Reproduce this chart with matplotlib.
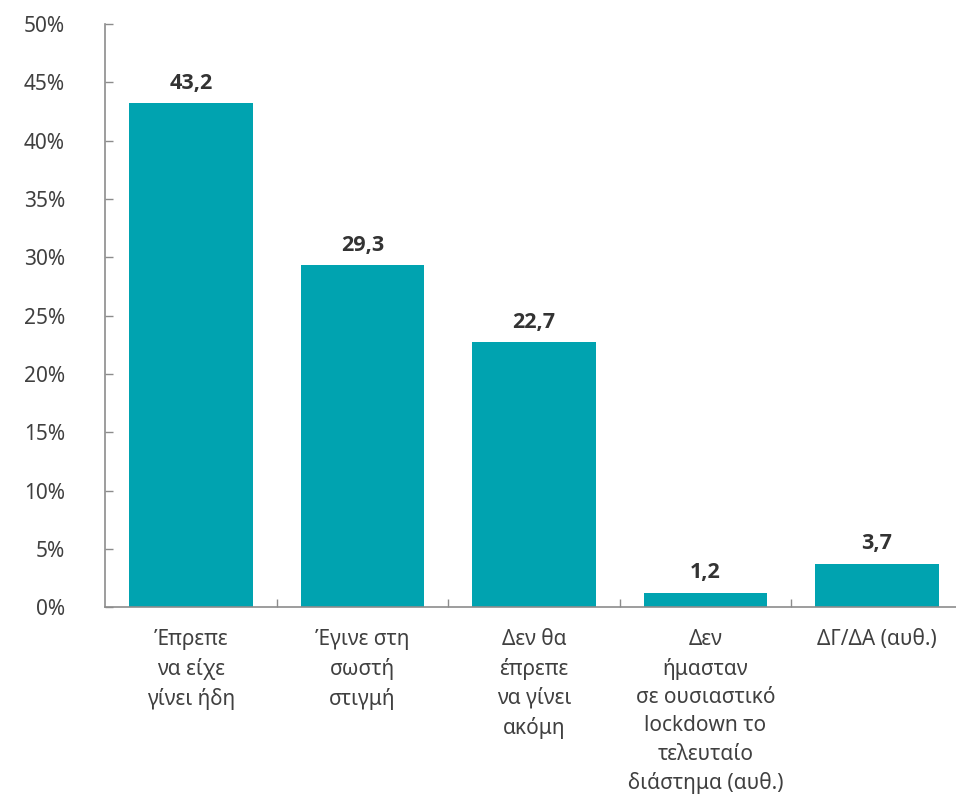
import matplotlib
matplotlib.use("Agg")
import matplotlib.pyplot as plt
from matplotlib.ticker import FixedLocator

plt.rcParams['font.family'] = ['Noto Sans', 'DejaVu Sans']

categories = [
    "Έπρεπε\nνα είχε\nγίνει ήδη",
    "Έγινε στη\nσωστή\nστιγμή",
    "Δεν θα\nέπρεπε\nνα γίνει\nακόμη",
    "Δεν\nήμασταν\nσε ουσιαστικό\nlockdown το\nτελευταίο\nδιάστημα (αυθ.)",
    "ΔΓ/ΔΑ (αυθ.)",
]
values = [43.2, 29.3, 22.7, 1.2, 3.7]
value_labels = ["43,2", "29,3", "22,7", "1,2", "3,7"]
yticks = [0, 5, 10, 15, 20, 25, 30, 35, 40, 45, 50]
ytick_labels = [f"{t}%" for t in yticks]

bar_color = "#00A3B0"
text_color = "#404040"
axis_color = "#8c8c8c"

fig = plt.figure(figsize=(9.56, 8.02), dpi=100)
ax = fig.add_axes([0.110, 0.243, 0.897, 0.727])

x = list(range(len(categories)))
bars = ax.bar(x, values, width=0.72, color=bar_color)

for xi, v, lab in zip(x, values, value_labels):
    ax.annotate(lab, (xi, v), xytext=(0, 7), textcoords="offset points",
                ha="center", va="bottom", fontsize=15.5, fontweight="bold",
                family=['Open Sans', 'Lato', 'DejaVu Sans'],
                color="#333333")

ax.set_xlim(-0.5, len(categories) - 0.5)
ax.set_ylim(0, 50)
ax.set_yticks(yticks)
ax.set_yticklabels(ytick_labels, fontsize=15, color=text_color)
ax.set_xticks(x)
ax.set_xticklabels(categories, fontsize=15, color=text_color, linespacing=1.45, va="top")
ax.tick_params(axis="x", which="major", length=0, pad=16)
ax.xaxis.set_minor_locator(FixedLocator([i + 0.5 for i in range(len(categories))]))
ax.tick_params(axis="x", which="minor", direction="in", length=6, color=axis_color, width=1)
ax.tick_params(axis="y", direction="in", length=6, color=axis_color, width=1, pad=29)
for lab in ax.get_yticklabels():
    lab.set_horizontalalignment("right")

ax.spines["top"].set_visible(False)
ax.spines["right"].set_visible(False)
ax.spines["left"].set_color(axis_color)
ax.spines["bottom"].set_color(axis_color)
ax.spines["left"].set_linewidth(1.2)
ax.spines["bottom"].set_linewidth(1.2)

fig.savefig("out.png", dpi=100)
